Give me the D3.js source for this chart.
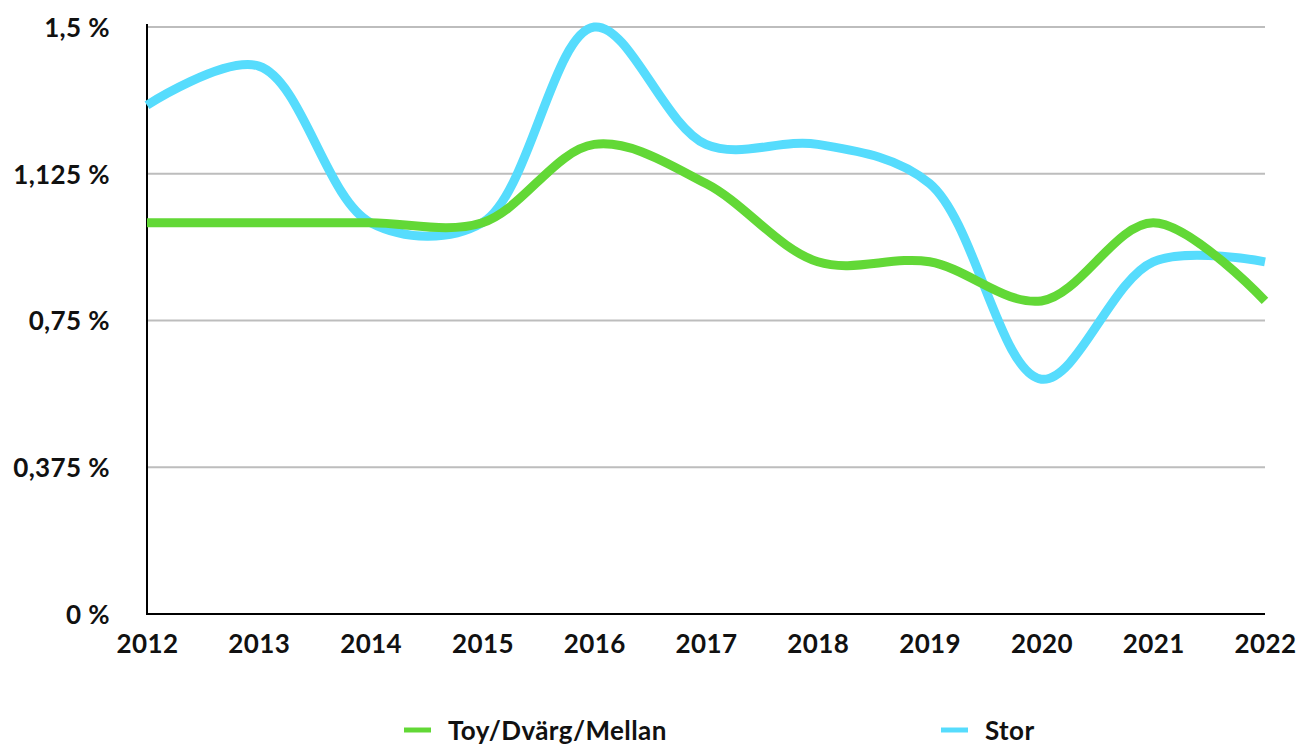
<!DOCTYPE html>
<html>
<head>
<meta charset="utf-8">
<script src="https://cdn.jsdelivr.net/npm/d3@7.9.0/dist/d3.min.js"></script>
<style>
  body { margin: 0; background: #fff; }
  svg text { font-family: "Lato", "Noto Sans", sans-serif; font-weight: 700; fill: #111; letter-spacing: 0.4px; }
</style>
</head>
<body>
<svg width="1300" height="744"></svg>
<script>
// data
const years = [2012, 2013, 2014, 2015, 2016, 2017, 2018, 2019, 2020, 2021, 2022];
const toyValues = [1.0, 1.0, 1.0, 1.0, 1.2, 1.1, 0.9, 0.9, 0.8, 1.0, 0.8];
const storValues = [1.3, 1.4, 1.0, 1.0, 1.5, 1.2, 1.2, 1.1, 0.6, 0.9, 0.9];
const yTicks = [0, 0.375, 0.75, 1.125, 1.5];
const yTickLabels = ["0 %", "0,375 %", "0,75 %", "1,125 %", "1,5 %"];
const seriesNames = ["Toy/Dvärg/Mellan", "Stor"];
const seriesColors = ["#62d836", "#56dcfd"];

const svg = d3.select("svg");
const plotLeft = 147, plotRight = 1265, plotTop = 27, plotBottom = 614;

// scales
const x = d3.scaleLinear().domain([2012, 2022]).range([plotLeft, plotRight]);
const y = d3.scaleLinear().domain([0, 1.5]).range([plotBottom, plotTop]);

// gridlines (skip 0, that one is the axis)
svg.append("g").selectAll("line")
  .data(yTicks.filter(d => d > 0))
  .join("line")
  .attr("x1", plotLeft).attr("x2", plotRight)
  .attr("y1", d => y(d)).attr("y2", d => y(d))
  .attr("stroke", "#bdbdbd").attr("stroke-width", 2);

// y axis labels
const yAxis = d3.axisLeft(y).tickValues(yTicks)
  .tickFormat((d, i) => yTickLabels[i]).tickSize(0).tickPadding(37);
const gy = svg.append("g").attr("transform", `translate(${plotLeft},0)`).call(yAxis);
gy.select(".domain").remove();
gy.selectAll("text").style("font-size", "26px").attr("dy", "0.36em");

// x axis labels
const xAxis = d3.axisBottom(x).tickValues(years).tickFormat(d3.format("d")).tickSize(0).tickPadding(21);
const gx = svg.append("g").attr("transform", `translate(0,${plotBottom})`).call(xAxis);
gx.select(".domain").remove();
gx.selectAll("text").style("font-size", "26px");

// axis lines
svg.append("line").attr("x1", plotLeft).attr("x2", plotLeft).attr("y1", 24).attr("y2", plotBottom + 1)
  .attr("stroke", "#000").attr("stroke-width", 2);
svg.append("line").attr("x1", plotLeft - 1).attr("x2", plotRight).attr("y1", plotBottom).attr("y2", plotBottom)
  .attr("stroke", "#000").attr("stroke-width", 2);

// lines, stor first so green sits on top
const line = d3.line()
  .x((d, i) => x(years[i]))
  .y(d => y(d))
  .curve(d3.curveCatmullRom.alpha(0.5));

[[storValues, seriesColors[1]], [toyValues, seriesColors[0]]].forEach(([vals, col]) => {
  svg.append("path").attr("d", line(vals))
    .attr("fill", "none").attr("stroke", col).attr("stroke-width", 9);
});

// legend
const legendX = [404, 941];
seriesNames.forEach((name, i) => {
  const g = svg.append("g").attr("transform", `translate(${legendX[i]},730)`);
  g.append("line").attr("x1", 0).attr("x2", 27).attr("y1", 0).attr("y2", 0)
    .attr("stroke", seriesColors[i]).attr("stroke-width", 5);
  g.append("text").attr("x", 44).attr("y", 10).style("font-size", "26px").text(name);
});
</script>
</body>
</html>
